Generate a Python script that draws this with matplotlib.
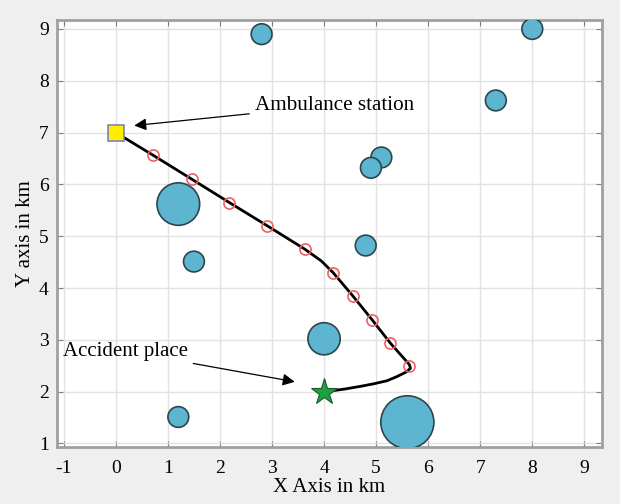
import matplotlib.pyplot as plt
from matplotlib.patches import Circle

# obstacles (km)
obs_x = [2.8, 8.0, 7.3, 5.1, 4.9, 1.2, 1.5, 4.8, 4.0, 1.2, 5.6]
obs_y = [8.9, 9.0, 7.62, 6.52, 6.32, 5.62, 4.51, 4.82, 3.02, 1.51, 1.41]
obs_r = [0.2, 0.2, 0.2, 0.2, 0.2, 0.41, 0.2, 0.2, 0.31, 0.2, 0.51]

# route from the station to the accident
path_x = [0, 0.72, 1.46, 2.18, 2.91, 3.63, 3.95, 4.18, 4.55, 4.92, 5.27, 5.5, 5.64, 5.66, 5.58,
          5.4, 5.21, 4.95, 4.69, 4.4, 4.18, 4.0]
path_y = [7, 6.56, 6.10, 5.65, 5.20, 4.75, 4.52, 4.29, 3.85, 3.39, 2.94, 2.68, 2.52, 2.45, 2.38,
          2.29, 2.21, 2.15, 2.10, 2.05, 2.02, 2.0]
way_x = [0.72, 1.46, 2.18, 2.91, 3.63, 4.18, 4.55, 4.92, 5.27, 5.64]
way_y = [6.56, 6.10, 5.65, 5.20, 4.75, 4.29, 3.85, 3.39, 2.94, 2.49]

station = (0, 7)
accident = (4, 2)

plt.rcParams['font.family'] = ['Liberation Serif', 'DejaVu Serif']
plt.rcParams['axes.unicode_minus'] = False

fig = plt.figure(figsize=(6.2, 5.04), dpi=100, facecolor='#efefef')
ax = fig.add_axes([0.092, 0.113, 0.879, 0.847])
ax.set_facecolor('white')

for x, y, r in zip(obs_x, obs_y, obs_r):
    ax.add_patch(Circle((x, y), r, facecolor='#5db5d0', edgecolor='#2c4650', lw=1.2, zorder=3))

ax.plot(path_x, path_y, color='black', lw=2, zorder=4)
ax.plot(way_x, way_y, 'o', mfc='none', mec='#f06060', mew=1.2, ms=8, zorder=5)
ax.plot(*station, 's', color='#ffee00', mec='#8080c0', mew=1.2, ms=11, zorder=6)
ax.plot(*accident, '*', color='#1fa040', mec='#1a5a2a', mew=0.8, ms=20, zorder=6)

ax.annotate('Ambulance station', xy=(0.30, 7.13), xytext=(2.67, 7.53),
            fontsize=15.2, va='center', ha='left',
            arrowprops=dict(arrowstyle='-|>', color='black', lw=0.9, mutation_scale=18))
ax.annotate('Accident place', xy=(3.49, 2.18), xytext=(-1.02, 2.78),
            fontsize=15, va='center', ha='left',
            arrowprops=dict(arrowstyle='-|>', color='black', lw=0.9, mutation_scale=18))

ax.set_xlim(-1.13, 9.34)
ax.set_ylim(0.93, 9.17)
ax.set_xticks(range(-1, 10))
ax.set_yticks(range(1, 10))
ax.grid(True, color='#e2e2e2', lw=1)
ax.set_axisbelow(True)
ax.tick_params(direction='in', top=True, right=True, length=4, color='#808080', labelsize=14)
ax.tick_params(axis='x', pad=9)
ax.tick_params(axis='y', pad=6)
for s in ax.spines.values():
    s.set_color('#a0a0a0')
    s.set_linewidth(2)

ax.set_xlabel('X Axis in km', fontsize=15, labelpad=1)
ax.set_ylabel('Y axis in km', fontsize=15, labelpad=3)

plt.savefig('out.png', dpi=100, facecolor=fig.get_facecolor())
